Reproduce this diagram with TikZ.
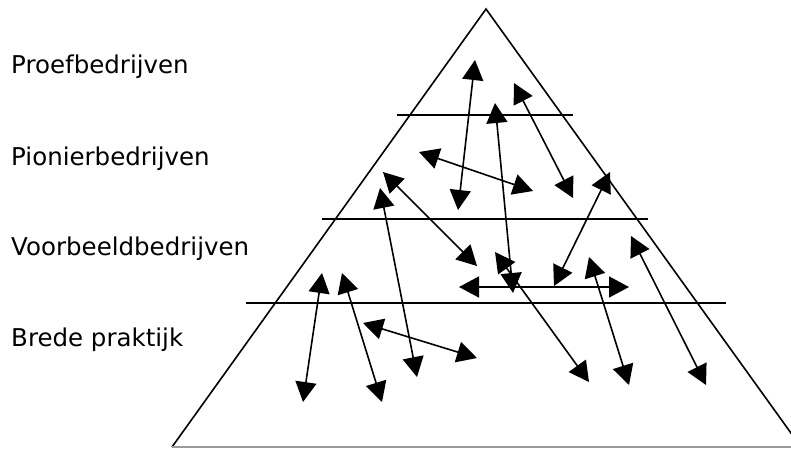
\documentclass[tikz,border=0pt]{standalone}
\usepackage{fontspec}
\setmainfont{DejaVu Sans}
\usetikzlibrary{arrows.meta}
\begin{document}
\begin{tikzpicture}[x=1pt,y=-1pt,
  edge/.style={line width=1.6pt},
  dbl/.style={line width=1.6pt,{Triangle[length=20pt,width=21pt]}-{Triangle[length=20pt,width=21pt]}},
  lbl/.style={anchor=base west,inner sep=0pt,font=\fontsize{24.5}{28}\selectfont}]
\useasboundingbox (0,0) rectangle (791,448);
\begin{scope}
\clip (0,0) rectangle (791,448);
% triangle
\coordinate (apex) at (486,9);
\coordinate (bl) at (172,447);
\coordinate (br) at (801,447);
\draw[edge] (bl) -- (apex) -- (br);
\draw[line width=1.6pt,black!40] (bl) -- (br);
% horizontal layers
\coordinate (h1a) at (397,115); \coordinate (h1b) at (573,115);
\coordinate (h2a) at (322,219); \coordinate (h2b) at (648,219);
\coordinate (h3a) at (246,303); \coordinate (h3b) at (726,303);
\draw[edge] (h1a) -- (h1b);
\draw[edge] (h2a) -- (h2b);
\draw[edge] (h3a) -- (h3b);
\end{scope}
% labels
\node[lbl] (l1) at (11,73) {Proefbedrijven};
\node[lbl] (l2) at (11,165) {Pionierbedrijven};
\node[lbl] (l3) at (11,255) {Voorbeeldbedrijven};
\node[lbl] (l4) at (11,346) {Brede praktijk};
% arrow end points
\coordinate (a1) at (475,60);    \coordinate (a2) at (458,210);
\coordinate (b1) at (514,83);    \coordinate (b2) at (573,198);
\coordinate (c1) at (495,103);   \coordinate (c2) at (513,293);
\coordinate (d1) at (419,152);   \coordinate (d2) at (533,191);
\coordinate (e1) at (383,172);   \coordinate (e2) at (477,266);
\coordinate (f1) at (380,188);   \coordinate (f2) at (417,377);
\coordinate (g1) at (610,172);   \coordinate (g2) at (554,286);
\coordinate (i1) at (459,287);   \coordinate (i2) at (629,287);
\coordinate (j1) at (495,252);   \coordinate (j2) at (589,382);
\coordinate (k1) at (589,257);   \coordinate (k2) at (629,385);
\coordinate (m1) at (631,236);   \coordinate (m2) at (706,385);
\coordinate (n1) at (322,273);   \coordinate (n2) at (303,402);
\coordinate (o1) at (342,273);   \coordinate (o2) at (382,402);
\coordinate (p1) at (363,323);   \coordinate (p2) at (477,358);
\draw[dbl] (a1) -- (a2);
\draw[dbl] (b1) -- (b2);
\draw[dbl] (c1) -- (c2);
\draw[dbl] (d1) -- (d2);
\draw[dbl] (e1) -- (e2);
\draw[dbl] (f1) -- (f2);
\draw[dbl] (g1) -- (g2);
\draw[dbl] (i1) -- (i2);
\draw[dbl] (j1) -- (j2);
\draw[dbl] (k1) -- (k2);
\draw[dbl] (m1) -- (m2);
\draw[dbl] (n1) -- (n2);
\draw[dbl] (o1) -- (o2);
\draw[dbl] (p1) -- (p2);
\end{tikzpicture}
\end{document}
